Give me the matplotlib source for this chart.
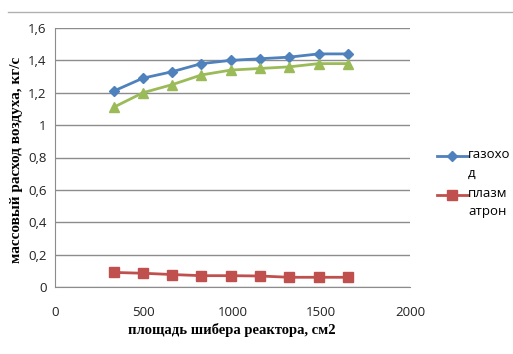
import matplotlib

matplotlib.use("Agg")
import matplotlib.pyplot as plt
from matplotlib.lines import Line2D
from matplotlib.ticker import FuncFormatter

# shutter area, cm2
area = [330, 495, 660, 825, 990, 1155, 1320, 1485, 1650]
gas = [1.21, 1.29, 1.33, 1.38, 1.40, 1.41, 1.42, 1.44, 1.44]
plasma = [0.09, 0.085, 0.077, 0.07, 0.07, 0.068, 0.06, 0.06, 0.06]
total = [1.11, 1.20, 1.25, 1.31, 1.34, 1.35, 1.36, 1.38, 1.38]

x_ticks = [0, 500, 1000, 1500, 2000]
y_ticks = [0, 0.2, 0.4, 0.6, 0.8, 1.0, 1.2, 1.4, 1.6]
legend_labels = ["газохо\nд", "плазм\nатрон"]

BLUE = "#4F81BD"
RED = "#C0504D"
GREEN = "#9BBB59"

fig = plt.figure(figsize=(5.13, 3.54), dpi=100)
ax = fig.add_axes([55 / 513, 1 - 287 / 354, (410 - 55) / 513, (287 - 28) / 354])

ax.plot(area, gas, color=BLUE, lw=2, marker="D", ms=5.5, zorder=3)
ax.plot(area, plasma, color=RED, lw=2, marker="s", ms=7, zorder=3)
ax.plot(area, total, color=GREEN, lw=2, marker="^", ms=7, zorder=3)

ax.set_xlim(0, 2000)
ax.set_ylim(0, 1.6)
ax.set_xticks(x_ticks)
ax.set_yticks(y_ticks)
ax.yaxis.set_major_formatter(FuncFormatter(lambda v, p: f"{v:g}".replace(".", ",")))
ax.grid(axis="y", color="#8c8c8c", lw=1)
ax.set_axisbelow(True)
for side in ["top", "right"]:
    ax.spines[side].set_visible(False)
for side in ["left", "bottom"]:
    ax.spines[side].set_color("#8c8c8c")
ax.tick_params(length=0, pad=6, labelsize=9.5, labelcolor="#222222")
for lab in ax.get_xticklabels() + ax.get_yticklabels():
    lab.set_family("Open Sans")
ax.tick_params(axis="x", pad=14)

fig.text(17 / 513, 1 - 160 / 354, "массовый расход воздуха, кг/с", rotation=90,
         ha="center", va="center", family="Liberation Serif", weight="bold", fontsize=11)
fig.text(232 / 513, 1 - 330 / 354, "площадь шибера реактора, см2",
         ha="center", va="center", family="Liberation Serif", weight="bold", fontsize=10.5)

# chart border line on top
fig.add_artist(Line2D([8 / 513, 1], [1 - 12 / 354] * 2, color="#b0b0b0", lw=1))

# legend drawn by hand: the handle sits on the first line of the wrapped label
styles = [(BLUE, "D", 5.5), (RED, "s", 7)]
for (color, marker, ms), label, y in zip(styles, legend_labels, [156, 195]):
    fy = 1 - y / 354
    fig.add_artist(Line2D([437 / 513, 468 / 513], [fy, fy], color=color, lw=2))
    fig.add_artist(Line2D([452 / 513], [fy], color=color, marker=marker, ms=ms))
    fig.text(468 / 513, fy + 8 / 354, label, ha="left", va="top", family="Open Sans",
             fontsize=9.5, linespacing=1.55)

fig.savefig("out.png", dpi=100)
